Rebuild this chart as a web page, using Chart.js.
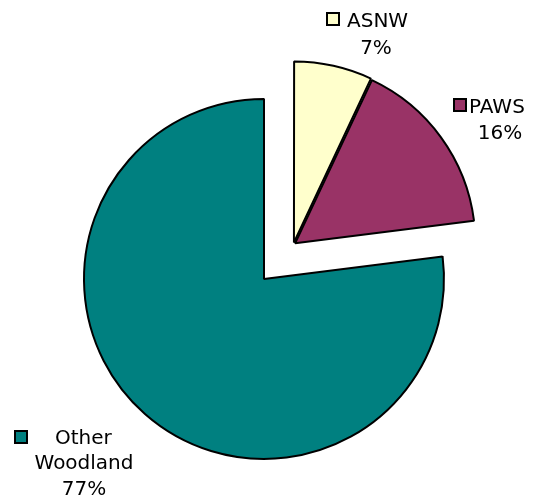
<!DOCTYPE html>
<html>
<head>
<meta charset="utf-8">
<script src="https://cdn.jsdelivr.net/npm/chart.js@4.4.1/dist/chart.umd.min.js"></script>
<style>
  html, body { margin: 0; padding: 0; background: #ffffff; }
  #wrap { position: relative; width: 533px; height: 497px; }
</style>
</head>
<body>
<div id="wrap"><canvas id="c" width="533" height="497"></canvas></div>
<script>
// ---- data ----
const categories = ["ASNW", "PAWS", "Other Woodland"];
const shares = [7, 16, 77];
const labelLines = [["ASNW", "7%"], ["PAWS", "16%"], ["Other", "Woodland", "77%"]];
const sliceColors = ["#FFFFCC", "#993366", "#008080"];
const exploded = [true, true, false];

// explode the first two slices together (shared shift)
const explodePlugin = {
  id: 'explodeGroup',
  afterDatasetsUpdate(chart) {
    const meta = chart.getDatasetMeta(0);
    const dx = 29.5, dy = -34.5;
    meta.data.forEach((arc, i) => {
      if (exploded[i]) { arc.x += dx; arc.y += dy; }
    });
  }
};

// Excel-style data labels with legend keys
const labelPlugin = {
  id: 'dataLabels',
  afterDraw(chart) {
    const ctx = chart.ctx;
    const layout = [
      { box: [327, 13], first: [347, 27], centers: [376], base: [54] },
      { box: [454, 99], first: [469, 113], centers: [500], base: [139] },
      { box: [15, 431], first: [55, 444], centers: [84, 84], base: [469, 495] }
    ];
    ctx.save();
    ctx.font = '20px "DejaVu Sans"';
    ctx.fillStyle = '#000';
    ctx.textBaseline = 'alphabetic';
    layout.forEach((L, i) => {
      // key box
      ctx.fillStyle = sliceColors[i];
      ctx.fillRect(L.box[0], L.box[1], 12, 12);
      ctx.strokeStyle = '#000';
      ctx.lineWidth = 2;
      ctx.strokeRect(L.box[0], L.box[1], 12, 12);
      ctx.fillStyle = '#000';
      ctx.textAlign = 'left';
      ctx.fillText(labelLines[i][0], L.first[0], L.first[1]);
      ctx.textAlign = 'center';
      for (let k = 1; k < labelLines[i].length; k++) {
        ctx.fillText(labelLines[i][k], L.centers[k - 1], L.base[k - 1]);
      }
    });
    ctx.restore();
  }
};

new Chart(document.getElementById('c'), {
  type: 'pie',
  data: {
    labels: categories,
    datasets: [{
      data: shares,
      backgroundColor: sliceColors,
      borderColor: '#000000',
      borderWidth: 2,
      offset: [8, 8, 0]
    }]
  },
  options: {
    responsive: false,
    animation: false,
    events: [],
    radius: 180,
    layout: { padding: { left: 0, right: 5, top: 61, bottom: 0 } },
    plugins: {
      legend: { display: false },
      tooltip: { enabled: false }
    }
  },
  plugins: [explodePlugin, labelPlugin]
});
</script>
</body>
</html>
